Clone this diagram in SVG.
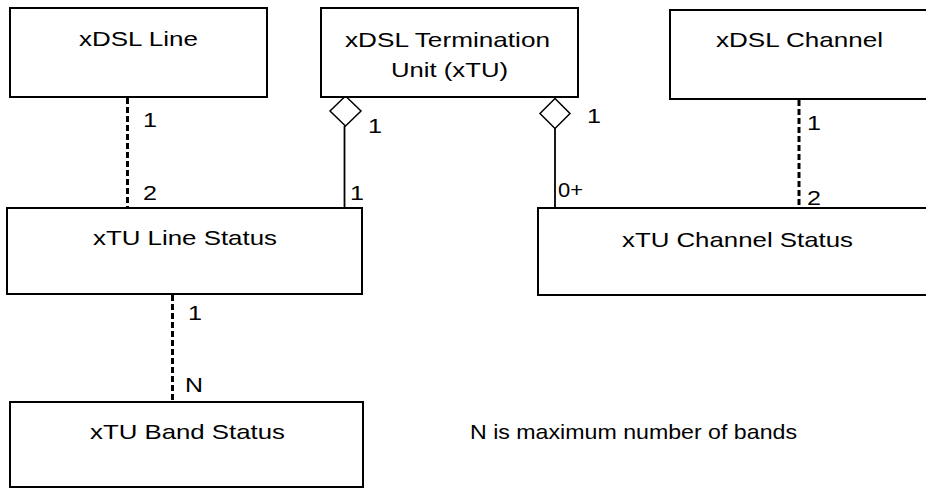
<svg xmlns="http://www.w3.org/2000/svg" width="926" height="489" viewBox="0 0 926 489">
<style>
.box{fill:#fff;stroke:#000;stroke-width:2}
.t{font-family:"Liberation Sans",Arial,sans-serif;font-size:21px;fill:#000}
.m{text-anchor:middle}
.dash{stroke:#000;stroke-width:3;stroke-dasharray:6 3;fill:none}
.solid{stroke:#000;stroke-width:1.8;fill:none}
.dia{fill:#fff;stroke:#000;stroke-width:1.5}
</style>
<rect width="926" height="489" fill="#fff"/>
<g id="connectors">
  <line class="dash" x1="127.5" y1="98" x2="127.5" y2="211"/>
  <line class="dash" x1="172.5" y1="295" x2="172.5" y2="408"/>
  <line class="dash" x1="799" y1="100" x2="799" y2="213"/>
  <line class="solid" x1="344.5" y1="126" x2="344.5" y2="208"/>
  <line class="solid" x1="555" y1="128" x2="555" y2="212"/>
  <polygon class="dia" points="345.5,96 361,111 345.5,126 330,111"/>
  <polygon class="dia" points="555,98.5 570,113.5 555,128.5 540,113.5"/>
  <text class="t" x="143" y="127" textLength="14" lengthAdjust="spacingAndGlyphs">1</text>
  <text class="t" x="143" y="200" textLength="14" lengthAdjust="spacingAndGlyphs">2</text>
  <text class="t" x="368" y="133" textLength="14" lengthAdjust="spacingAndGlyphs">1</text>
  <text class="t" x="350" y="200" textLength="14" lengthAdjust="spacingAndGlyphs">1</text>
  <text class="t" x="587" y="123" textLength="14" lengthAdjust="spacingAndGlyphs">1</text>
  <text class="t" x="558" y="197" textLength="25" lengthAdjust="spacingAndGlyphs">0+</text>
  <text class="t" x="807" y="130" textLength="14" lengthAdjust="spacingAndGlyphs">1</text>
  <text class="t" x="807" y="205" textLength="14" lengthAdjust="spacingAndGlyphs">2</text>
  <text class="t" x="188" y="320" textLength="14" lengthAdjust="spacingAndGlyphs">1</text>
  <text class="t" x="185" y="392" textLength="18" lengthAdjust="spacingAndGlyphs">N</text>
</g>
<g id="xdsl-line">
  <rect class="box" x="10" y="8" width="257" height="89"/>
  <text class="t m" x="138.5" y="46" textLength="119" lengthAdjust="spacingAndGlyphs">xDSL Line</text>
</g>
<g id="xdsl-termination-unit">
  <rect class="box" x="321" y="8" width="257" height="89"/>
  <text class="t m" x="447.5" y="47" textLength="205" lengthAdjust="spacingAndGlyphs">xDSL Termination</text>
  <text class="t m" x="449.5" y="77" textLength="117" lengthAdjust="spacingAndGlyphs">Unit (xTU)</text>
</g>
<g id="xdsl-channel">
  <rect class="box" x="670" y="10" width="270" height="89"/>
  <text class="t m" x="799.5" y="47" textLength="167" lengthAdjust="spacingAndGlyphs">xDSL Channel</text>
</g>
<g id="xtu-line-status">
  <rect class="box" x="7" y="208" width="355" height="86"/>
  <text class="t m" x="185" y="245" textLength="184" lengthAdjust="spacingAndGlyphs">xTU Line Status</text>
</g>
<g id="xtu-channel-status">
  <rect class="box" x="538" y="208" width="402" height="87"/>
  <text class="t m" x="737.5" y="247" textLength="231" lengthAdjust="spacingAndGlyphs">xTU Channel Status</text>
</g>
<g id="xtu-band-status">
  <rect class="box" x="10" y="402" width="353" height="85"/>
  <text class="t m" x="187.5" y="439" textLength="195" lengthAdjust="spacingAndGlyphs">xTU Band Status</text>
</g>
<g id="note">
  <text class="t" x="470" y="439" textLength="327" lengthAdjust="spacingAndGlyphs">N is maximum number of bands</text>
</g>
</svg>
